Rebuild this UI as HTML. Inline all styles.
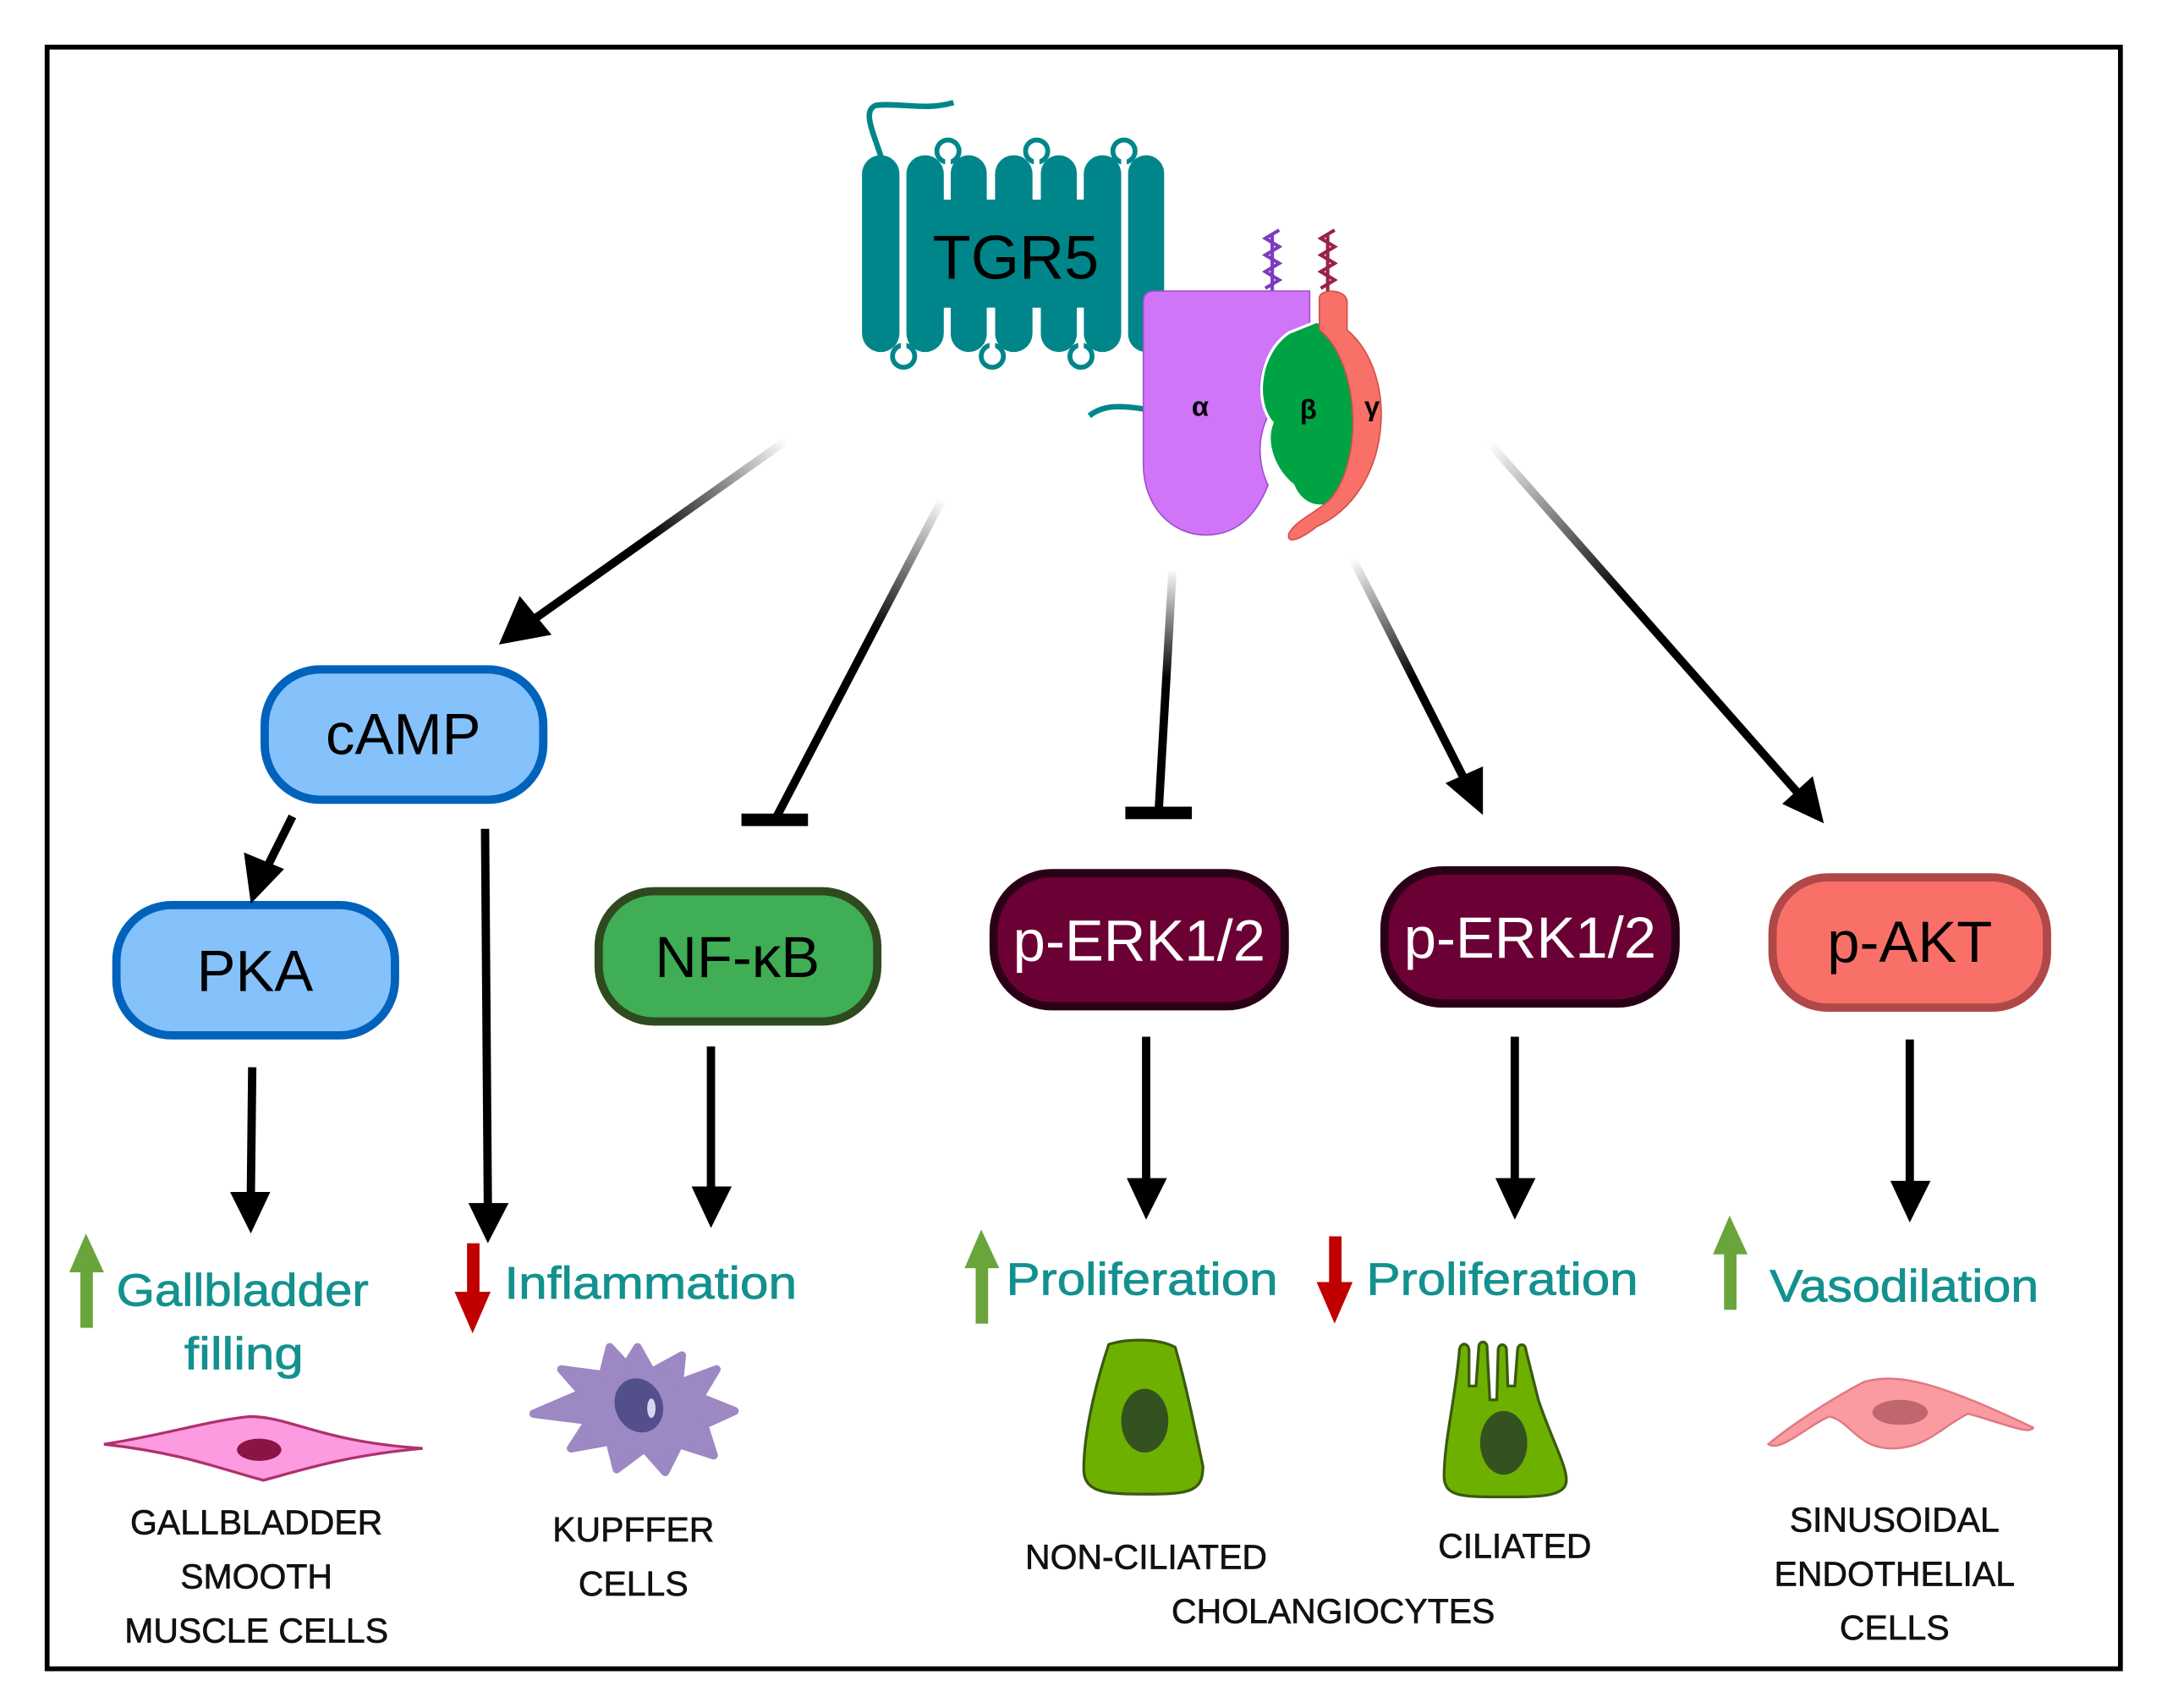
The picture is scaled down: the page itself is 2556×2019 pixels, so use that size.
<!DOCTYPE html>
<html><head><meta charset="utf-8"><style>
html,body{margin:0;padding:0;background:#fff}
svg{display:block}
.t{font-family:"Liberation Sans",sans-serif}
.teal{font-family:"Liberation Sans",sans-serif;fill:#13918f;font-size:33px;stroke:#13918f;stroke-width:0.5}
.lab{font-family:"Liberation Sans",sans-serif;fill:#111;font-size:25px;text-anchor:middle;stroke:#111;stroke-width:0.4}
</style></head><body>
<svg width="2556" height="2019" viewBox="0 0 1560 1232.3" preserveAspectRatio="none" xmlns="http://www.w3.org/2000/svg">
<defs>
<linearGradient id="g1" gradientUnits="userSpaceOnUse" x1="567" y1="318" x2="470" y2="390"><stop offset="0" stop-color="#fff"/><stop offset="1" stop-color="#000"/></linearGradient>
<linearGradient id="g2" gradientUnits="userSpaceOnUse" x1="680" y1="360" x2="630" y2="455"><stop offset="0" stop-color="#fff"/><stop offset="1" stop-color="#000"/></linearGradient>
<linearGradient id="g3" gradientUnits="userSpaceOnUse" x1="846" y1="410" x2="842" y2="490"><stop offset="0" stop-color="#fff"/><stop offset="1" stop-color="#000"/></linearGradient>
<linearGradient id="g4" gradientUnits="userSpaceOnUse" x1="976" y1="403" x2="1020" y2="490"><stop offset="0" stop-color="#fff"/><stop offset="1" stop-color="#000"/></linearGradient>
<linearGradient id="g5" gradientUnits="userSpaceOnUse" x1="1075" y1="320" x2="1170" y2="430"><stop offset="0" stop-color="#fff"/><stop offset="1" stop-color="#000"/></linearGradient>
</defs>
<rect x="0" y="0" width="1560" height="1233" fill="#fff"/>
<rect x="34" y="34" width="1496" height="1170" fill="none" stroke="#000" stroke-width="3.5"/>

<!-- TGR5 receptor -->
<g fill="#00868a" stroke="#00868a">
<path d="M636 114 C630 95 622 80 632 76 C650 74 668 80 688 74" fill="none" stroke-width="4"/>
<rect x="622" y="112" width="27" height="142" rx="13.5" stroke="none"/>
<rect x="654" y="112" width="27" height="142" rx="13.5" stroke="none"/>
<rect x="686" y="112" width="26" height="142" rx="13" stroke="none"/>
<rect x="718" y="112" width="27" height="142" rx="13.5" stroke="none"/>
<rect x="751" y="112" width="26" height="142" rx="13" stroke="none"/>
<rect x="782" y="112" width="27" height="142" rx="13.5" stroke="none"/>
<rect x="814" y="112" width="26" height="142" rx="13" stroke="none"/>
<rect x="668" y="144" width="128" height="78" stroke="none"/>
<path d="M825 295 C805 292 795 293 786 300" fill="none" stroke-width="4"/>
<!-- top loops -->
<g fill="#fff" stroke-width="3.5">
<circle cx="684" cy="109" r="8"/>
<circle cx="748" cy="109" r="8"/>
<circle cx="811" cy="109" r="8"/>
<circle cx="652" cy="257" r="8"/>
<circle cx="716" cy="257" r="8"/>
<circle cx="780" cy="257" r="8"/>
</g>
<g fill="#fff" stroke="none">
<rect x="682" y="112" width="4" height="32"/>
<rect x="746" y="112" width="4" height="32"/>
<rect x="809" y="112" width="4" height="130"/>
<rect x="650" y="112" width="4" height="140"/>
<rect x="714" y="222" width="4" height="31"/>
<rect x="778" y="222" width="4" height="31"/>
</g>
</g>
<text x="733" y="201" class="t" font-size="45" text-anchor="middle" fill="#000">TGR5</text>

<!-- G protein -->
<path d="M918 210 L918 170 M913 208 l10 -6 -10 -6 10 -6 -10 -6 10 -6 -10 -6 10 -6" fill="none" stroke="#7a3cc0" stroke-width="2.5"/>
<path d="M958 212 L958 170 M953 208 l10 -6 -10 -6 10 -6 -10 -6 10 -6 -10 -6 10 -6" fill="none" stroke="#9a2050" stroke-width="2.5"/>
<path d="M833 210 L945 210 L945 240 C905 245 905 285 915 300 C905 320 910 340 915 350 C905 375 890 386 870 386 C845 386 825 365 825 335 L825 218 Q825 210 833 210 Z" fill="#d074f8" stroke="#a050d0" stroke-width="1"/>
<path d="M950 232 C985 240 985 330 970 355 C960 370 940 368 933 350 C920 340 912 320 918 305 C905 290 908 255 930 240 Z" fill="#00a344" stroke="#fff" stroke-width="2"/>
<path d="M952 215 C952 208 972 208 972 218 L972 238 C1010 270 1005 355 950 380 C940 388 928 394 930 385 C935 375 950 370 960 360 C985 330 980 260 952 238 Z" fill="#f87068" stroke="#d05048" stroke-width="1"/>
<text x="866" y="300" class="t" font-size="20" font-weight="bold" text-anchor="middle">α</text>
<text x="944" y="302" class="t" font-size="20" font-weight="bold" text-anchor="middle">β</text>
<text x="990" y="300" class="t" font-size="20" font-weight="bold" text-anchor="middle">γ</text>

<!-- gradient connectors -->
<line x1="567" y1="318" x2="385" y2="447" stroke="url(#g1)" stroke-width="6"/>
<polygon points="360,465 375,430 398,458" fill="#000"/>
<line x1="680" y1="360" x2="560" y2="590" stroke="url(#g2)" stroke-width="6"/>
<rect x="535" y="587" width="48" height="9" fill="#000"/>
<line x1="846" y1="412" x2="836" y2="586" stroke="url(#g3)" stroke-width="6"/>
<rect x="812" y="582" width="48" height="9" fill="#000"/>
<line x1="976" y1="403" x2="1057" y2="563" stroke="url(#g4)" stroke-width="6"/>
<polygon points="1070,588 1043,565 1070,553" fill="#000"/>
<line x1="1075" y1="320" x2="1298" y2="573" stroke="url(#g5)" stroke-width="6"/>
<polygon points="1316,594 1286,580 1308,560" fill="#000"/>

<!-- nodes -->
<g stroke-width="6">
<rect x="191" y="483" width="201" height="94" rx="40" fill="#85c1fb" stroke="#0062bb"/>
<rect x="84" y="653" width="201" height="94" rx="40" fill="#85c1fb" stroke="#0062bb"/>
<rect x="432" y="643" width="201" height="94" rx="40" fill="#3fae55" stroke="#2e4a1e"/>
<rect x="717" y="630" width="210" height="96" rx="42" fill="#6b0035" stroke="#2a0016"/>
<rect x="999" y="628" width="210" height="96" rx="42" fill="#6b0035" stroke="#2a0016"/>
<rect x="1279" y="633" width="198" height="94" rx="40" fill="#f87068" stroke="#b04848"/>
</g>
<g class="t" font-size="42" text-anchor="middle">
<text x="291" y="544" fill="#000">cAMP</text>
<text x="184" y="715" fill="#000">PKA</text>
<text x="532" y="705" fill="#000">NF-κB</text>
<text x="822" y="693" fill="#fff">p-ERK1/2</text>
<text x="1104" y="691" fill="#fff">p-ERK1/2</text>
<text x="1378" y="694" fill="#000">p-AKT</text>
</g>

<!-- black arrows -->
<g stroke="#000" stroke-width="6">
<line x1="211" y1="589" x2="193" y2="625"/>
<line x1="350" y1="598" x2="352" y2="870"/>
<line x1="182" y1="770" x2="181" y2="862"/>
<line x1="513" y1="755" x2="513" y2="858"/>
<line x1="827" y1="748" x2="827" y2="852"/>
<line x1="1093" y1="748" x2="1093" y2="852"/>
<line x1="1378" y1="750" x2="1378" y2="854"/>
</g>
<g fill="#000">
<polygon points="181,652 176,615 205,627"/>
<polygon points="338,868 367,868 352,897"/>
<polygon points="166,860 195,860 181,890"/>
<polygon points="499,856 528,856 513,886"/>
<polygon points="813,850 842,850 827,880"/>
<polygon points="1079,850 1108,850 1093,880"/>
<polygon points="1364,852 1393,852 1378,882"/>
</g>

<!-- up/down arrows -->
<g fill="#6aa53c">
<rect x="58" y="915" width="9" height="43"/><polygon points="50,918 75,918 62,890"/>
<rect x="704" y="912" width="9" height="43"/><polygon points="696,915 721,915 708,887"/>
<rect x="1244" y="902" width="9" height="43"/><polygon points="1236,905 1261,905 1248,877"/>
</g>
<g fill="#c00000">
<rect x="337" y="897" width="9" height="37"/><polygon points="328,932 354,932 341,962"/>
<rect x="959" y="892" width="9" height="35"/><polygon points="950,925 976,925 963,955"/>
</g>

<!-- teal texts -->
<text x="84" y="942" class="teal" textLength="182" lengthAdjust="spacingAndGlyphs">Gallbladder</text>
<text x="133" y="988" class="teal" textLength="86" lengthAdjust="spacingAndGlyphs">filling</text>
<text x="364" y="937" class="teal" textLength="211" lengthAdjust="spacingAndGlyphs">Inflammation</text>
<text x="726" y="934" class="teal" textLength="196" lengthAdjust="spacingAndGlyphs">Proliferation</text>
<text x="986" y="934" class="teal" textLength="196" lengthAdjust="spacingAndGlyphs">Proliferation</text>
<text x="1277" y="939" class="teal" textLength="194" lengthAdjust="spacingAndGlyphs">Vasodilation</text>

<!-- cells -->
<path d="M75 1042 C120 1035 150 1025 180 1022 C210 1022 230 1040 305 1045 C250 1050 220 1060 190 1068 C160 1060 130 1048 75 1042 Z" fill="#fd9be0" stroke="#b0306e" stroke-width="2"/>
<ellipse cx="187" cy="1046" rx="16" ry="8" fill="#8a1444"/>
<path d="M460 972 L470 990 L492 978 L490 998 L517 988 L505 1008 L530 1018 L508 1028 L515 1050 L490 1042 L480 1062 L465 1045 L445 1060 L440 1040 L412 1045 L425 1025 L385 1020 L420 1005 L405 988 L435 992 L440 972 L452 985 Z" fill="#9c88c2" stroke="#9c88c2" stroke-width="6" stroke-linejoin="round"/>
<ellipse cx="461" cy="1014" rx="17" ry="20" transform="rotate(-25 461 1014)" fill="#534f8a"/>
<ellipse cx="470" cy="1016" rx="3" ry="7" fill="#d8d4f0"/>
<path d="M800 970 C812 966 835 965 848 972 C856 1000 862 1030 868 1058 C868 1075 860 1078 830 1078 C800 1078 782 1078 782 1060 C782 1035 790 1000 800 970 Z" fill="#6eb000" stroke="#3a5a10" stroke-width="2"/>
<ellipse cx="826" cy="1025" rx="17" ry="23" fill="#345220"/>
<path d="M1053 975 C1053 968 1060 968 1060 975 L1060 1000 L1065 1000 L1067 972 C1067 967 1073 967 1073 972 L1075 1010 L1080 1010 L1081 974 C1081 969 1087 969 1087 974 L1088 1000 L1093 1000 L1095 974 C1095 969 1101 969 1101 974 L1110 1010 C1120 1040 1132 1060 1130 1070 C1128 1080 1110 1080 1085 1080 C1055 1080 1042 1080 1042 1065 C1042 1040 1050 1010 1053 975 Z" fill="#6eb000" stroke="#3a5a10" stroke-width="2"/>
<ellipse cx="1085" cy="1041" rx="17" ry="23" fill="#345220"/>
<path d="M1276 1042 C1290 1030 1320 1010 1345 997 C1370 990 1400 998 1467 1030 C1465 1036 1440 1025 1420 1020 C1400 1030 1390 1045 1365 1045 C1340 1045 1335 1025 1320 1022 C1305 1028 1285 1048 1276 1042 Z" fill="#f99ba0" stroke="#e07880" stroke-width="1.5"/>
<ellipse cx="1371" cy="1019" rx="20" ry="9" fill="#c0666e"/>

<!-- labels -->
<text x="185" y="1107" class="lab">GALLBLADDER</text>
<text x="185" y="1146" class="lab">SMOOTH</text>
<text x="185" y="1185" class="lab">MUSCLE CELLS</text>
<text x="457" y="1112" class="lab">KUPFFER</text>
<text x="457" y="1151" class="lab">CELLS</text>
<text x="827" y="1132" class="lab">NON-CILIATED</text>
<text x="1093" y="1124" class="lab">CILIATED</text>
<text x="962" y="1171" class="lab">CHOLANGIOCYTES</text>
<text x="1367" y="1105" class="lab">SINUSOIDAL</text>
<text x="1367" y="1144" class="lab">ENDOTHELIAL</text>
<text x="1367" y="1183" class="lab">CELLS</text>
</svg>
</body></html>
